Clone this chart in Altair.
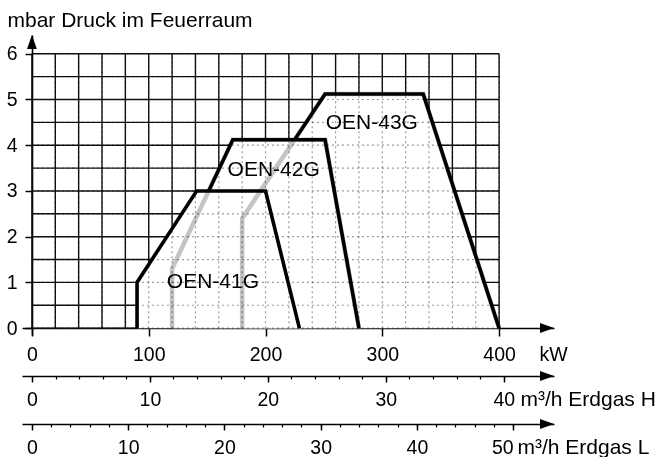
import altair as alt
import pandas as pd

# ---------------- data ----------------
grid_kw = list(range(0, 401, 20))
grid_mbar = [i * 0.5 for i in range(13)]

kw_ticks = [0, 100, 200, 300, 400]
mbar_ticks = [0, 1, 2, 3, 4, 5, 6]
h_major = [0, 10, 20, 30, 40]
h_minor = list(range(0, 41, 2))
l_major = [0, 10, 20, 30, 40, 50]
l_minor = list(range(0, 51, 2))
KW_PER_M3H_H = 10.1    # Erdgas H: kW per m3/h
KW_PER_M3H_L = 8.24    # Erdgas L: kW per m3/h

oen41_kw = [90, 90, 141, 200, 229]
oen41_mbar = [0, 1.0, 3.0, 3.0, 0]
oen42_kw = [120, 120, 172, 251, 280]
oen42_mbar = [0, 1.3, 4.12, 4.12, 0]
oen43_kw = [180, 180, 251, 335, 400]
oen43_mbar = [0, 2.4, 5.12, 5.12, 0]

label_names = ["OEN-41G", "OEN-42G", "OEN-43G"]
label_kw = [155, 207, 291]
label_mbar = [1.0, 3.46, 4.48]

# ---------------- layout ----------------
FONT = "Liberation Sans"
W, H = 532, 300
Y_LO, Y_HI = -0.15, 6.41
PX_PER_MBAR = H / (Y_HI - Y_LO)
KW_AXIS_OFF = -7
H_AXIS_OFF = 41
L_AXIS_OFF = 89

xs = alt.Scale(domain=[-8.5, 447], nice=False, zero=False)
ys = alt.Scale(domain=[Y_LO, Y_HI], nice=False, zero=False)


def poly_df(kw, mb):
    return pd.DataFrame({"kw": kw, "mbar": mb, "i": list(range(len(kw)))})


def X(field, axis=None):
    if axis is None:
        return alt.X(field, type="quantitative", scale=xs, axis=None)
    return alt.X(field, type="quantitative", scale=xs, axis=axis)


def Y(field, axis=None):
    if axis is None:
        return alt.Y(field, type="quantitative", scale=ys, axis=None)
    return alt.Y(field, type="quantitative", scale=ys, axis=axis)


def XD(v):
    return alt.XDatum(v, type="quantitative", scale=xs, axis=None)


def YD(v):
    return alt.YDatum(v, type="quantitative", scale=ys, axis=None)


common_axis = dict(
    labelFont=FONT, titleFont=FONT, labelColor="black", titleColor="black",
    domainColor="black", tickColor="black", labelFontSize=19.5,
    titleFontWeight="normal", labelOverlap=False, labelFlush=False, grid=False,
)

axis_kw = alt.Axis(
    orient="bottom", offset=KW_AXIS_OFF, values=kw_ticks, tickSize=8, tickWidth=1.5,
    domainWidth=1.6, labelBaseline="alphabetic", labelPadding=24, format="d",
    title="kW", titleX=517, titleY=32, titleAlign="left", titleBaseline="alphabetic",
    titleAnchor="start", titleFontSize=19.5, **common_axis,
)
axis_h_major = alt.Axis(
    orient="bottom", offset=H_AXIS_OFF, values=[v * KW_PER_M3H_H for v in h_major],
    labelExpr=f"format(datum.value / {KW_PER_M3H_H}, '.0f')",
    tickSize=6, tickWidth=1.5, domainWidth=1.6, labelBaseline="alphabetic", labelPadding=23,
    title="m³/h Erdgas H", titleX=498, titleY=29, titleAlign="left",
    titleBaseline="alphabetic", titleAnchor="start", titleFontSize=21, **common_axis,
)
axis_h_minor = alt.Axis(
    orient="bottom", offset=H_AXIS_OFF, values=[v * KW_PER_M3H_H for v in h_minor],
    tickSize=3, tickWidth=1.2, labels=False, domain=False, title=None, grid=False,
    tickColor="black",
)
axis_l_major = alt.Axis(
    orient="bottom", offset=L_AXIS_OFF, values=[v * KW_PER_M3H_L for v in l_major],
    labelExpr=f"format(datum.value / {KW_PER_M3H_L}, '.0f')",
    labelAlign={"condition": {"test": "datum.value > 400", "value": "right"}, "value": "center"},
    tickSize=6, tickWidth=1.5, domainWidth=1.6, labelBaseline="alphabetic", labelPadding=23,
    title="m³/h Erdgas L", titleX=495, titleY=29, titleAlign="left",
    titleBaseline="alphabetic", titleAnchor="start", titleFontSize=21, **common_axis,
)
axis_l_minor = alt.Axis(
    orient="bottom", offset=L_AXIS_OFF, values=[v * KW_PER_M3H_L for v in l_minor],
    tickSize=3, tickWidth=1.2, labels=False, domain=False, title=None, grid=False,
    tickColor="black",
)
axis_y = alt.Axis(
    orient="left", offset=-10, values=mbar_ticks, tickSize=7, tickWidth=1.5,
    domainWidth=1.6, labelPadding=8, format="d",
    title="mbar Druck im Feuerraum", titleAngle=0, titleX=-25, titleY=-9,
    titleAlign="left", titleBaseline="alphabetic", titleFontSize=21, **common_axis,
)

gridv_df = pd.DataFrame({"kw": grid_kw})
gridh_df = pd.DataFrame({"mbar": grid_mbar})

# black grid
grid_v = alt.Chart(gridv_df).mark_rule(color="#111111", strokeWidth=1.4).encode(
    x=X("kw", axis_kw), y=YD(0), y2=alt.Y2Datum(6))
grid_h = alt.Chart(gridh_df).mark_rule(color="#111111", strokeWidth=1.4).encode(
    y=Y("mbar", axis_y), x=XD(0), x2=alt.X2Datum(400))

layers = [grid_v, grid_h]

for kw, mb in [(oen43_kw, oen43_mbar), (oen42_kw, oen42_mbar), (oen41_kw, oen41_mbar)]:
    df = poly_df(kw, mb)
    fill = alt.Chart(df).mark_area(color="white", opacity=1).encode(
        x=X("kw"), y=Y("mbar"), y2=alt.Y2Datum(0))
    line = alt.Chart(df).mark_line(color="black", strokeWidth=3.6, strokeJoin="miter").encode(
        x=X("kw"), y=Y("mbar"), order="i:Q")
    layers += [fill, line]

# faint dotted grid (shows only where the areas are white)
dot_v = alt.Chart(gridv_df).mark_rule(color="#9a9a9a", strokeWidth=1.2, strokeDash=[2, 3], blend="multiply").encode(
    x=X("kw", axis_h_major), y=YD(0), y2=alt.Y2Datum(6))
dot_h = alt.Chart(gridh_df).mark_rule(color="#9a9a9a", strokeWidth=1.2, strokeDash=[2, 3], blend="multiply").encode(
    y=Y("mbar"), x=XD(0), x2=alt.X2Datum(400))
layers += [dot_v, dot_h]

# hidden outlines of the larger burners (light grey)
hidden_df = pd.concat([
    poly_df(oen42_kw, oen42_mbar).assign(m="42"),
    poly_df(oen43_kw, oen43_mbar).assign(m="43"),
])
hidden = alt.Chart(hidden_df).mark_line(color="#c4c4c4", strokeWidth=4.5, blend="multiply").encode(
    x=X("kw", axis_h_minor), y=Y("mbar"), order="i:Q", detail="m:N")
layers.append(hidden)

lab_df = pd.DataFrame({"name": label_names, "kw": label_kw, "mbar": label_mbar})
labels = alt.Chart(lab_df).mark_text(font=FONT, fontSize=21, color="black").encode(
    x=X("kw", axis_l_major), y=Y("mbar"), text="name:N")
layers.append(labels)

# arrow heads at the ends of the axes
arrow_x = 441
y_h = Y_LO - H_AXIS_OFF / PX_PER_MBAR
y_l = Y_LO - L_AXIS_OFF / PX_PER_MBAR
y_kw = Y_LO - KW_AXIS_OFF / PX_PER_MBAR
right_df = pd.DataFrame({"kw": [arrow_x] * 3, "mbar": [y_kw, y_h, y_l]})
arrows_r = alt.Chart(right_df).mark_point(
    shape="M-1,-0.7L1,0L-1,0.7Z", filled=True, color="black", size=196, opacity=1, strokeWidth=0
).encode(x=X("kw", axis_l_minor), y=Y("mbar"))
up_df = pd.DataFrame({"kw": [0], "mbar": [Y_HI - 7 / PX_PER_MBAR]})
arrow_up = alt.Chart(up_df).mark_point(
    shape="M0,-1L0.7,1L-0.7,1Z", filled=True, color="black", size=196, opacity=1, strokeWidth=0
).encode(x=X("kw"), y=Y("mbar"))
layers += [arrows_r, arrow_up]

chart = alt.layer(*layers).resolve_scale(x="shared", y="shared").resolve_axis(
    x="independent", y="independent"
).properties(
    width=W, height=H,
    autosize=alt.AutoSizeParams(type="none"),
    padding={"left": 22, "top": 35, "right": 114, "bottom": 122},
    background="white",
).configure_view(stroke=None)

chart.save("out.html", embed_options={"renderer": "svg", "actions": False})
